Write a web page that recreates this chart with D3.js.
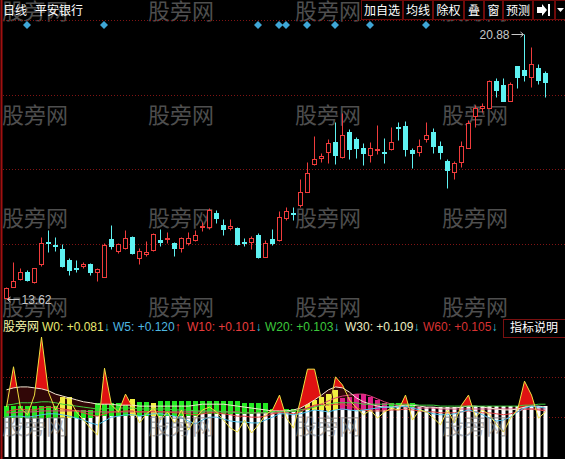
<!DOCTYPE html>
<html><head><meta charset="utf-8">
<script src="https://cdn.jsdelivr.net/npm/d3@7"></script>
<style>html,body{margin:0;padding:0;background:#000;overflow:hidden}svg{display:block}</style>
</head><body>
<svg id="c" width="565" height="459"></svg>
<script>
// ---------- data ----------
const stockName = "平安银行";
const period = "日线";
const opens  = [13.66,13.96,14.17,14.37,14.08,14.57,15.19,15.10,14.98,14.68,14.46,14.53,14.58,14.37,14.23,15.26,14.94,15.01,15.31,14.74,14.85,14.96,15.24,15.28,15.15,15.01,15.15,15.24,15.60,15.60,15.99,15.65,15.58,15.58,15.18,15.19,15.38,14.78,15.26,15.24,15.85,15.99,16.20,16.55,17.31,17.50,17.64,17.92,17.52,18.19,18.00,17.77,17.57,17.70,17.66,17.73,18.35,18.37,17.71,17.66,18.01,18.21,17.82,17.41,17.09,17.39,17.77,18.65,18.87,18.87,19.61,19.49,19.05,20.01,19.90,19.72,19.95,19.81];
const highs  = [13.96,14.63,14.46,14.42,14.46,15.33,15.51,15.33,15.13,14.74,14.69,14.64,14.60,14.46,15.15,15.65,15.15,15.51,15.36,15.01,15.21,15.42,15.54,15.45,15.19,15.31,15.47,15.51,15.74,16.11,16.06,15.81,15.81,15.60,15.28,15.36,15.42,15.24,15.54,16.03,16.13,16.13,16.91,17.37,18.10,17.62,18.00,18.48,18.71,18.27,18.05,17.89,17.92,18.39,18.03,18.35,18.48,18.50,17.75,18.01,18.48,18.32,17.95,17.46,17.41,17.94,18.53,18.94,18.99,19.63,19.69,19.69,19.58,20.01,20.88,20.54,20.06,19.87];
const lows   = [13.62,13.96,14.14,14.11,14.05,14.53,14.90,14.94,14.51,14.28,14.37,14.48,14.28,14.10,14.21,14.99,14.87,14.99,14.85,14.59,14.81,14.94,15.06,15.15,14.81,14.90,15.10,15.21,15.49,15.54,15.70,15.38,15.51,15.10,15.06,14.99,14.75,14.76,15.10,15.21,15.79,15.79,16.15,16.55,17.30,17.39,17.34,17.31,17.50,17.45,17.50,17.30,17.37,17.59,17.34,17.71,17.98,17.55,17.22,17.55,17.92,17.62,17.46,16.67,16.90,17.25,17.75,18.35,18.76,18.85,19.17,19.04,19.04,19.40,19.60,19.43,19.52,19.17];
const closes = [13.91,14.11,14.37,14.14,14.46,15.15,15.15,15.07,14.53,14.42,14.43,14.58,14.35,14.43,15.10,15.06,15.12,15.28,14.87,14.95,14.90,15.39,15.19,15.30,15.01,15.28,15.28,15.38,15.62,16.06,15.85,15.54,15.62,15.12,15.16,15.28,14.78,15.15,15.15,15.86,16.03,15.96,16.56,17.07,17.45,17.54,17.89,17.57,18.12,17.73,17.77,17.63,17.75,17.73,17.63,17.92,18.32,17.73,17.63,17.83,18.12,17.83,17.66,17.16,17.34,17.83,18.46,18.85,18.90,19.61,19.35,19.05,19.52,19.70,19.75,20.06,19.63,19.56];
const signalDays = [3,14,36,39,40,43,47,52,60];

// lower indicator panel
const w0  = [.104,.188,.102,.088,.129,.250,.135,.098,.125,.119,.094,.077,.060,.046,.185,.108,.094,.131,.104,.071,.090,.102,.077,.094,.071,.098,.056,.081,.098,.104,.094,.077,.060,.052,.077,.050,.067,.088,.098,.129,.081,.060,.119,.183,.183,.119,.094,.167,.150,.119,.102,.088,.098,.081,.094,.102,.098,.129,.077,.098,.094,.081,.067,.098,.071,.108,.129,.083,.098,.088,.067,.052,.081,.098,.158,.129,.081,.094];
const w5  = [.083,.085,.085,.083,.085,.088,.090,.090,.088,.085,.081,.077,.071,.067,.075,.083,.085,.088,.088,.085,.088,.090,.090,.088,.085,.081,.075,.069,.077,.083,.083,.079,.075,.073,.073,.071,.071,.077,.083,.090,.090,.088,.090,.094,.098,.096,.094,.098,.100,.098,.096,.098,.100,.102,.104,.104,.104,.106,.102,.098,.094,.090,.088,.088,.090,.094,.098,.094,.088,.081,.075,.077,.083,.094,.102,.106,.104,.102];
const w10 = [.094,.098,.100,.098,.098,.102,.104,.102,.100,.098,.096,.092,.088,.085,.090,.094,.094,.096,.096,.094,.094,.096,.094,.094,.092,.092,.090,.088,.090,.092,.092,.090,.088,.085,.085,.083,.083,.085,.090,.092,.092,.090,.094,.102,.108,.110,.108,.110,.110,.106,.102,.098,.096,.096,.096,.098,.098,.100,.098,.096,.094,.094,.092,.092,.092,.094,.096,.094,.092,.092,.090,.088,.090,.094,.100,.100,.098,.096];
const w20 = [.108,.110,.113,.113,.113,.115,.115,.113,.110,.108,.106,.104,.102,.100,.100,.102,.102,.102,.102,.100,.100,.100,.100,.100,.098,.098,.098,.096,.096,.096,.096,.094,.094,.092,.092,.092,.092,.092,.094,.094,.094,.096,.098,.100,.104,.108,.110,.113,.113,.113,.113,.110,.110,.110,.110,.110,.110,.110,.110,.108,.108,.108,.106,.106,.106,.106,.106,.106,.106,.106,.106,.106,.106,.106,.108,.108,.110,.110];
const w30 = [.140,.144,.146,.146,.144,.142,.138,.131,.127,.123,.119,.115,.113,.110,.110,.110,.108,.108,.108,.106,.106,.106,.106,.106,.106,.106,.106,.108,.110,.110,.110,.110,.108,.106,.104,.102,.100,.098,.096,.096,.096,.098,.102,.110,.119,.129,.140,.146,.144,.135,.123,.115,.110,.106,.104,.104,.106,.108,.108,.106,.104,.104,.102,.102,.102,.104,.106,.106,.104,.102,.100,.098,.098,.100,.104,.106,.106,.104];
const w60 = [.092,.092,.094,.094,.094,.096,.096,.096,.096,.096,.096,.096,.094,.094,.094,.094,.094,.094,.094,.094,.094,.094,.094,.094,.094,.094,.094,.094,.094,.094,.094,.094,.094,.094,.092,.092,.092,.092,.092,.094,.094,.096,.098,.102,.106,.110,.117,.123,.127,.129,.131,.131,.127,.121,.115,.110,.106,.104,.102,.102,.102,.102,.100,.100,.100,.100,.100,.100,.100,.100,.100,.100,.100,.100,.100,.100,.100,.100];
const baseBars = [.081,.081,.081,.081,.081,.081,.081,.081,.081,.081,.081,.081,.081,.085,.085,.085,.085,.085,.085,.085,.085,.085,.085,.085,.085,.085,.085,.085,.090,.090,.090,.090,.090,.090,.090,.090,.094,.094,.094,.094,.094,.094,.094,.098,.098,.098,.098,.098,.098,.098,.098,.098,.098,.098,.098,.104,.104,.104,.104,.104,.104,.104,.104,.104,.104,.104,.106,.106,.106,.106,.106,.106,.106,.106,.106,.106,.106,.106];
const stackBars = [.106,.106,.106,.106,.106,.106,.106,.106,.125,.125,.098,.098,.098,.113,.113,.113,.113,.113,.121,.115,.115,.113,.117,.117,.117,.117,.117,.117,.117,.117,.117,.117,.117,.117,.113,.113,.113,.113,.100,.100,.100,.100,.096,.115,.119,.125,.131,.140,.123,.125,.131,.131,.125,.119,.113,.113,.113,.113,.113,null,null,null,null,null,null,null,null,null,null,null,null,null,null,null,null,null,null,null];
const stackKind = ["g","g","g","g","g","g","g","g","y","y","g","g","g","g","g","g","g","g","y","g","g","y","g","g","g","g","g","g","g","g","g","g","g","g","g","g","g","g","g","g","g","g","g","y","y","y","y","y","m","m","m","m","m","m","m","g","g","g","g","","","","","","","","","","","","","","","","","","",""];
const legendName  = ["W0","W5","W10","W20","W30","W60"];
const legendValue = ["+0.081","+0.120","+0.101","+0.103","+0.109","+0.105"];
const legendDir   = ["↓","↑","↓","↓","↓","↓"];
const buttons = ["加自选","均线","除权","叠","窗","预测"];
const watermark = "股旁网";

// ---------- drawing ----------
const svg = d3.select("#c");
const W = 565, H = 459;
svg.append("rect").attr("width", W).attr("height", H).attr("fill", "#000");
const N = opens.length;
const idx = d3.range(N);
const CJK = "'Noto Sans CJK SC','Liberation Sans',Arial,sans-serif";
const LAT = "'Liberation Sans',Arial,'Noto Sans CJK SC',sans-serif";

const x = d3.scaleBand().domain(idx).range([3, 549]).paddingInner(0.3).paddingOuter(0.15);
const cx = i => Math.round(x(i) + x.bandwidth() / 2 - 0.5) + 0.5;
const y = d3.scaleLinear().domain([13.62, 20.88]).range([299, 34.3]);
const yl = d3.scaleLinear().domain([0, 0.25]).range([457, 337]);
const py = v => Math.round(y(v)) + 0.5;

// watermarks (upper rows under the chart)
const wmX = [2, 148, 295, 442], wmY = [19, 123, 226, 315];
wmY.forEach(wy => wmX.forEach(wx => {
  svg.append("text").attr("x", wx).attr("y", wy).text(watermark)
    .attr("font-family", CJK).attr("font-size", 22).attr("fill", "#4e4e4e");
}));

// grid lines main panel
const mainTop = 20, mainBot = 318;
d3.range(4).forEach(k => {
  const gy = Math.round(mainTop + k * (mainBot - mainTop) / 4) + 0.5;
  svg.append("line").attr("x1", 3).attr("x2", W).attr("y1", gy).attr("y2", gy)
    .attr("stroke", "#801414").attr("stroke-dasharray", "1,2");
});
// lower panel grid
[377.5, 417.5].forEach(gy => svg.append("line").attr("x1", 3).attr("x2", W).attr("y1", gy).attr("y2", gy)
  .attr("stroke", "#801414").attr("stroke-dasharray", "1,2"));

// candles
const UP = "#f03c3c", DN = "#5ef2f2";
const cg = svg.append("g");
idx.forEach(i => {
  const up = closes[i] >= opens[i];
  const col = up ? UP : DN;
  const xc = cx(i);
  cg.append("line").attr("x1", xc).attr("x2", xc).attr("y1", py(highs[i])).attr("y2", py(lows[i]))
    .attr("stroke", col).attr("stroke-width", 1);
  const top = Math.round(y(Math.max(opens[i], closes[i])));
  const bot = Math.round(y(Math.min(opens[i], closes[i])));
  if (up) {
    const h = Math.max(bot - top, 1);
    cg.append("rect").attr("x", xc - 2).attr("y", top + 0.5).attr("width", 4).attr("height", h)
      .attr("fill", "#000").attr("stroke", col).attr("stroke-width", 1);
  } else {
    const h = Math.max(bot - top, 1);
    cg.append("rect").attr("x", xc - 2.5).attr("y", top).attr("width", 5).attr("height", h + 1)
      .attr("fill", col);
  }
});

// high/low labels
const hi = d3.maxIndex(highs), lo = d3.minIndex(lows);
const hy = py(highs[hi]);
svg.append("text").attr("x", cx(hi) - 15).attr("y", hy + 4.5).attr("text-anchor", "end")
  .attr("font-family", LAT).attr("font-size", 12).attr("fill", "#c8c8c8").text(highs[hi].toFixed(2));
svg.append("path").attr("d", `M${cx(hi) - 13},${hy}H${cx(hi)-1}M${cx(hi)-4},${hy-2.5}L${cx(hi)-1},${hy}L${cx(hi)-4},${hy+2.5}`)
  .attr("stroke", "#c8c8c8").attr("fill", "none");
const ly = py(lows[lo]);
svg.append("path").attr("d", `M${cx(lo) + 1},${ly}H${cx(lo) + 13}M${cx(lo)+4},${ly-2.5}L${cx(lo)+1},${ly}L${cx(lo)+4},${ly+2.5}`)
  .attr("stroke", "#c8c8c8").attr("fill", "none");
svg.append("text").attr("x", cx(lo) + 15).attr("y", ly + 4.5)
  .attr("font-family", LAT).attr("font-size", 12).attr("fill", "#c8c8c8").text(lows[lo].toFixed(2));

// signal diamonds
signalDays.forEach(i => {
  const xc = cx(i) - 0.5;
  svg.append("path").attr("d", `M${xc},21 L${xc + 4},25 L${xc},29 L${xc - 4},25Z`).attr("fill", "#3fa6d6");
});

// header
svg.append("text").attr("x", 3).attr("y", 15).attr("font-family", CJK).attr("font-size", 12)
  .attr("fill", "#ffffff").text(period);
svg.append("text").attr("x", 35).attr("y", 15).attr("font-family", CJK).attr("font-size", 12)
  .attr("fill", "#ffffff").text(stockName);
const btnX = [361, 403, 433, 464, 484, 503];
const btnW = [41, 29, 30, 19, 18, 29];
buttons.forEach((b, k) => {
  svg.append("rect").attr("x", btnX[k] + 0.5).attr("y", 0.5).attr("width", btnW[k]).attr("height", 19)
    .attr("fill", "#000").attr("stroke", "#6e0a0a");
  svg.append("text").attr("x", btnX[k] + btnW[k] / 2 + 0.5).attr("y", 15).attr("text-anchor", "middle")
    .attr("font-family", CJK).attr("font-size", 12).attr("fill", "#ffffff").text(b);
});
svg.append("rect").attr("x", 533.5).attr("y", 0.5).attr("width", 21).attr("height", 19).attr("fill", "#000").attr("stroke", "#6e0a0a");
svg.append("path").attr("d", "M537,7H542V4L547,10L542,16V13H537Z M548,4H550V16H548Z").attr("fill", "#ffffff");
svg.append("rect").attr("x", 555.5).attr("y", 0.5).attr("width", 12).attr("height", 19).attr("fill", "#000").attr("stroke", "#6e0a0a");
svg.append("path").attr("d", "M557,8H564L560.5,12Z").attr("fill", "#ffffff");
// left border
svg.append("line").attr("x1", 1.5).attr("x2", 1.5).attr("y1", 0).attr("y2", H).attr("stroke", "#a01010").attr("stroke-width", 2);

// legend row
const lg = svg.append("g").attr("font-family", LAT).attr("font-size", 12);
lg.append("text").attr("x", 3).attr("y", 331).attr("font-family", CJK).attr("fill", "#f4f4a8").text(watermark);
const lgX = [42, 113, 187, 265, 345, 423];
const lgCol = ["#e8e870", "#4fb8e0", "#e83c3c", "#3cc83c", "#ececc0", "#d83232"];
legendName.forEach((n, k) => {
  const t = lg.append("text").attr("x", lgX[k]).attr("y", 331);
  t.append("tspan").attr("fill", lgCol[k]).text(`${n}: ${legendValue[k]}`);
  t.append("tspan").attr("fill", legendDir[k] === "↑" ? "#ff3c3c" : "#3cc0d8").text(legendDir[k]);
});
svg.append("rect").attr("x", 503.5).attr("y", 319.5).attr("width", 63).attr("height", 18)
  .attr("fill", "none").attr("stroke", "#7a1010");
svg.append("text").attr("x", 510).attr("y", 332).attr("font-family", CJK).attr("font-size", 12)
  .attr("fill", "#ffffff").text("指标说明");

// lower panel
const lp = svg.append("g");
// dark red zone under W30
lp.append("path").datum(idx).attr("fill", "#5a0c0c").attr("opacity", 0.55)
  .attr("d", d3.area().x(i => cx(i)).y0(i => yl(baseBars[i])).y1(i => yl(w30[i])).curve(d3.curveMonotoneX));
// white bars
lp.selectAll("rect.wb").data(idx).join("rect").attr("class", "wb")
  .attr("x", i => cx(i) - 2).attr("width", 4)
  .attr("y", i => Math.round(yl(baseBars[i]))).attr("height", i => 457 - Math.round(yl(baseBars[i])))
  .attr("fill", "#ffffff");
// stacked coloured bars
const kindCol = { g: "#22e822", y: "#f0f040", m: "#e0208a" };
lp.selectAll("rect.sb").data(idx.filter(i => stackBars[i] !== null)).join("rect").attr("class", "sb")
  .attr("x", i => cx(i) - 2.5).attr("width", 5)
  .attr("y", i => Math.round(yl(stackBars[i])))
  .attr("height", i => Math.max(0, Math.round(yl(baseBars[i])) - Math.round(yl(stackBars[i]))))
  .attr("fill", i => kindCol[stackKind[i]]);
// red spike fill: region below W0 and above W30
const clipId = "clipAbove";
svg.append("clipPath").attr("id", clipId).append("path").datum(idx)
  .attr("d", d3.area().x(i => cx(i)).y0(330).y1(i => yl(w30[i])));
lp.append("path").datum(idx).attr("clip-path", `url(#${clipId})`).attr("fill", "#e01212")
  .attr("d", d3.area().x(i => cx(i)).y0(460).y1(i => yl(w0[i])));
// lines
const ln = d3.line().x(i => cx(i));
const series = [[w60, "#d8407a"], [w30, "#f4e6d2"], [w20, "#40d040"], [w10, "#e04040"], [w5, "#48c0e8"], [w0, "#f0e040"]];
series.forEach(([s, c]) => {
  lp.append("path").datum(idx).attr("fill", "none").attr("stroke", c).attr("stroke-width", 1)
    .attr("d", ln.y(i => yl(s[i])));
});
// lower watermark row, translucent over the bars
wmX.forEach(wx => {
  svg.append("text").attr("x", wx).attr("y", 434).text(watermark)
    .attr("font-family", CJK).attr("font-size", 22).attr("fill", "#808080").attr("opacity", 0.6);
});
</script>
</body></html>
